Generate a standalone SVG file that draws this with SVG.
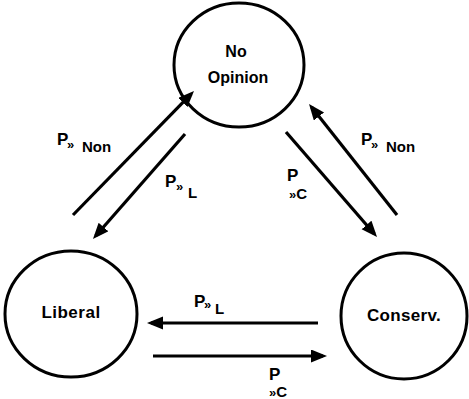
<svg xmlns="http://www.w3.org/2000/svg" width="469" height="399" viewBox="0 0 469 399">
<style>
.node{fill:#fff;stroke:#000;stroke-width:3}
.nl{font-family:"Liberation Sans",Arial,sans-serif;font-weight:bold;fill:#000;text-anchor:middle}
.lab{font-family:"Liberation Sans",Arial,sans-serif;font-weight:bold;fill:#000}
.edge{stroke:#000;stroke-width:3.2;fill:none;marker-end:url(#ah)}
.p{font-size:17px}
.s{font-size:13px}
.t{font-size:15px}
</style>
<defs>
<marker id="ah" markerUnits="userSpaceOnUse" markerWidth="17" markerHeight="14" refX="12" refY="6.5" orient="auto">
<path d="M0,0 L16,6.5 L0,13 z" fill="#000"/>
</marker>
</defs>
<rect width="469" height="399" fill="#fff"/>
<g id="no-opinion">
<ellipse class="node" cx="239" cy="65" rx="65" ry="62"/>
<text class="nl" x="236" y="57" font-size="16">No</text>
<text class="nl" x="238" y="83" font-size="16">Opinion</text>
</g>
<g id="liberal">
<ellipse class="node" cx="71" cy="314" rx="66" ry="63"/>
<text class="nl" x="71" y="318" font-size="17" letter-spacing="0.5">Liberal</text>
</g>
<g id="conserv">
<ellipse class="node" cx="404" cy="316" rx="63" ry="63"/>
<text class="nl" x="404" y="321" font-size="17" letter-spacing="0.3">Conserv.</text>
</g>
<g id="connectors">
<line class="edge" x1="73" y1="215" x2="191.2" y2="93.9"/>
<line class="edge" x1="185" y1="134" x2="95.6" y2="236"/>
<line class="edge" x1="286" y1="132" x2="374.4" y2="234"/>
<line class="edge" x1="397" y1="215" x2="311.5" y2="107.1"/>
<line class="edge" x1="318" y1="323" x2="151" y2="323"/>
<line class="edge" x1="153" y1="356" x2="323" y2="356"/>
</g>
<g id="labels">
<text class="lab"><tspan class="p" x="57" y="145">P</tspan><tspan class="s" x="67" y="149">»</tspan><tspan class="t" x="82" y="152">Non</tspan></text>
<text class="lab"><tspan class="p" x="165" y="187">P</tspan><tspan class="s" x="176" y="191">»</tspan><tspan class="t" x="188" y="198">L</tspan></text>
<text class="lab"><tspan class="p" x="361" y="145">P</tspan><tspan class="s" x="371" y="149">»</tspan><tspan class="t" x="386" y="152">Non</tspan></text>
<text class="lab"><tspan class="p" x="287" y="181">P</tspan></text>
<text class="lab" x="289" y="199"><tspan class="s">»</tspan><tspan class="t">C</tspan></text>
<text class="lab"><tspan class="p" x="194" y="307">P</tspan><tspan class="s" x="204" y="309">»</tspan><tspan class="t" x="215" y="314">L</tspan></text>
<text class="lab"><tspan class="p" x="269" y="380">P</tspan><tspan class="s" x="269" y="397">»</tspan><tspan class="t">C</tspan></text>
</g>
</svg>
